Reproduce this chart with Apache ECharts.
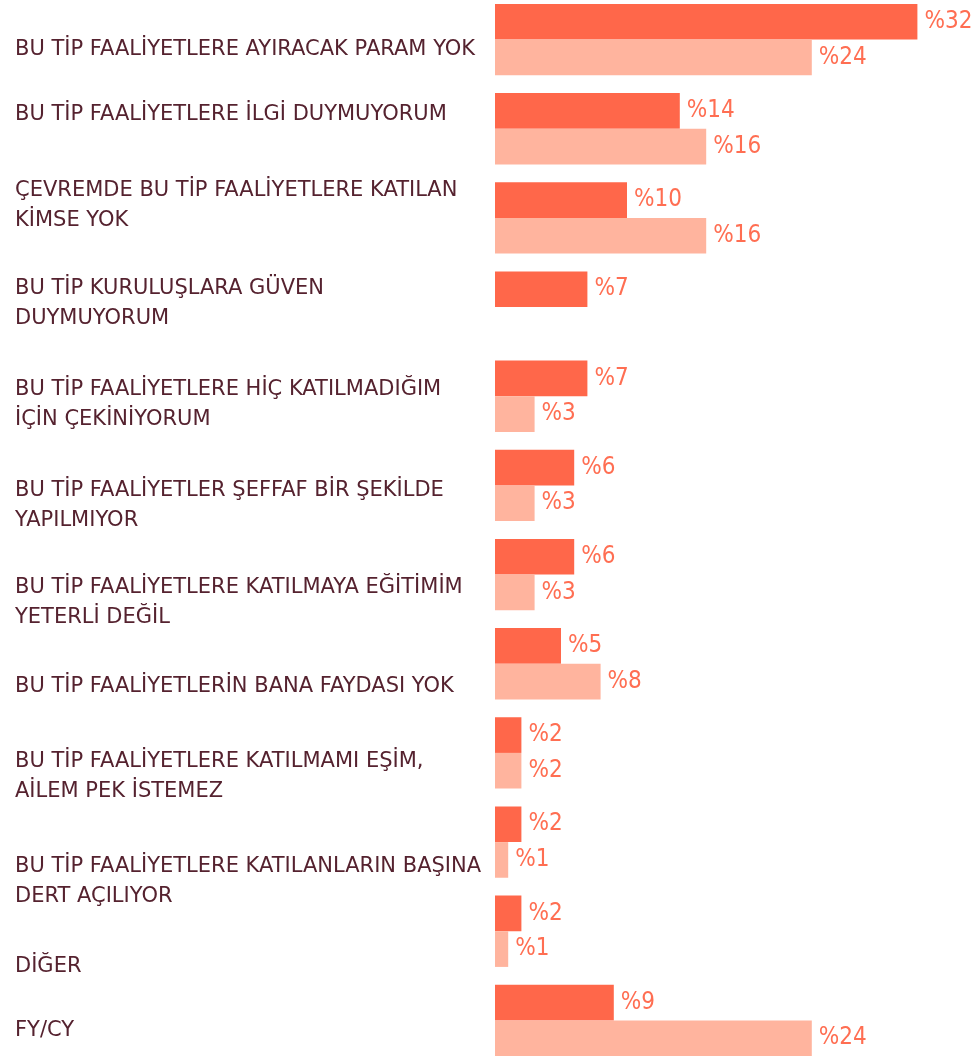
<!DOCTYPE html>
<html lang="tr">
<head>
    <meta charset="UTF-8">
    <title>chart</title>
    <style>html,body{margin:0;padding:0;background:#fff}</style>
</head>
<body>
<div id="chart" style="width: 971px;height: 1058px"></div>
<script src="https://cdn.jsdelivr.net/npm/echarts@6/dist/echarts.min.js"></script>
<script>
    const categories = [
        'BU TİP FAALİYETLERE AYIRACAK PARAM YOK',
        'BU TİP FAALİYETLERE İLGİ DUYMUYORUM',
        'ÇEVREMDE BU TİP FAALİYETLERE KATILAN\nKİMSE YOK',
        'BU TİP KURULUŞLARA GÜVEN\nDUYMUYORUM',
        'BU TİP FAALİYETLERE HİÇ KATILMADIĞIM\nİÇİN ÇEKİNİYORUM',
        'BU TİP FAALİYETLER ŞEFFAF BİR ŞEKİLDE\nYAPILMIYOR',
        'BU TİP FAALİYETLERE KATILMAYA EĞİTİMİM\nYETERLİ DEĞİL',
        'BU TİP FAALİYETLERİN BANA FAYDASI YOK',
        'BU TİP FAALİYETLERE KATILMAMI EŞİM,\nAİLEM PEK İSTEMEZ',
        'BU TİP FAALİYETLERE KATILANLARIN BAŞINA\nDERT AÇILIYOR',
        'DİĞER',
        'FY/CY'
    ];
    const seriesA = [32, 14, 10, 7, 7, 6, 6, 5, 2, 2, 2, 9];
    const seriesB = [24, 16, 16, null, 3, 3, 3, 8, 2, 1, 1, 24];

    // labels in the original sit a bit off the bar centre (px, + = down)
    const labelNudge = [10, -14, -12, -4, 8, 20, 28, 23, 24, 39, 35, 10];

    const dom = document.getElementById('chart');
    const chart = echarts.init(dom);

    const valueLabel = {
        show: true,
        position: 'right',
        distance: 7,
        formatter: p => '%' + p.value,
        color: '#FF6E52',
        fontFamily: "'Noto Sans ExtraCondensed Light', 'Noto Sans ExtraCondensed', 'Noto Sans Condensed', 'Liberation Sans Narrow', 'DejaVu Sans Condensed', sans-serif",
        fontSize: 24
    };

    // category names are drawn as labels of an invisible point at x = 0,
    // so each one can be nudged vertically like in the original
    const nameData = categories.map((c, i) => ({
        value: [0, i],
        label: {offset: [0, labelNudge[i]]}
    }));

    chart.setOption({
        animation: false,
        grid: {left: 495, right: 14, top: -5, bottom: -7, containLabel: false, outerBoundsMode: 'none'},
        xAxis: {
            type: 'value',
            min: 0,
            max: 35,
            show: false
        },
        yAxis: {
            type: 'category',
            inverse: true,
            data: categories,
            axisLine: {show: false},
            axisTick: {show: false},
            axisLabel: {show: false}
        },
        series: [
            {
                type: 'bar',
                data: seriesA,
                barGap: 0,
                barCategoryGap: '20%',
                itemStyle: {color: '#FF674A'},
                label: valueLabel
            },
            {
                type: 'bar',
                data: seriesB.map(v => v === null ? '-' : v),
                itemStyle: {color: '#FFB49E'},
                label: valueLabel
            },
            {
                type: 'scatter',
                data: nameData,
                symbolSize: 0,
                silent: true,
                z: 5,
                itemStyle: {opacity: 1},
                label: {
                    show: true,
                    position: 'left',
                    distance: 480,
                    align: 'left',
                    formatter: p => categories[p.dataIndex],
                    color: '#55222F',
                    opacity: 1,
                    fontFamily: "'DejaVu Sans', sans-serif",
                    fontSize: 21,
                    lineHeight: 30
                }
            }
        ]
    });
</script>
</body>
</html>
